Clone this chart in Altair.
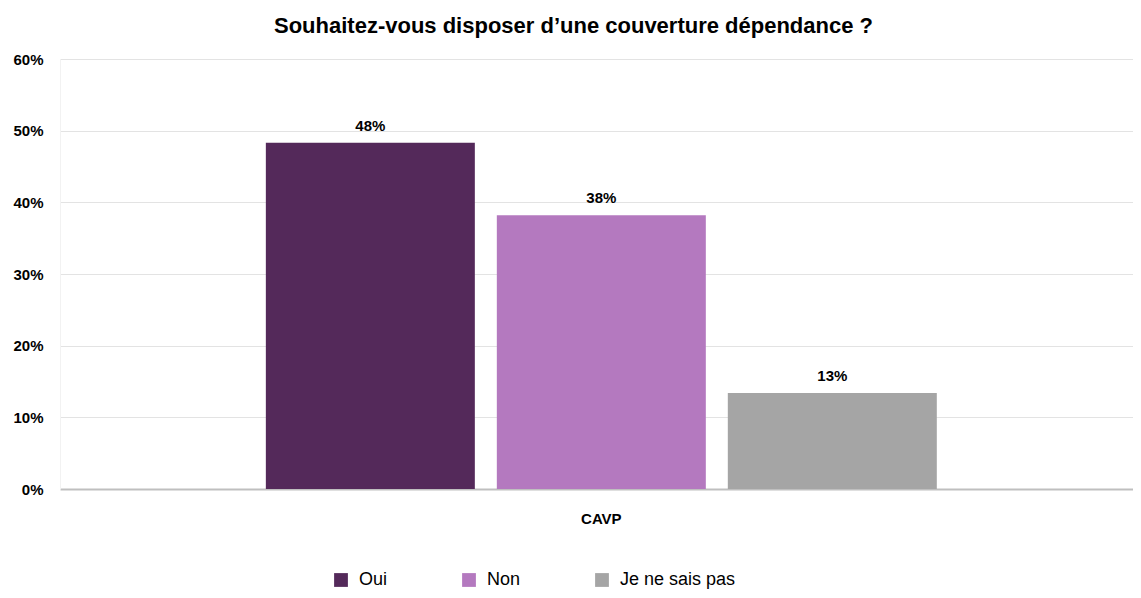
import altair as alt
import pandas as pd

groups = ["CAVP", "CAVP", "CAVP"]
responses = ["Oui", "Non", "Je ne sais pas"]
values = [0.483, 0.382, 0.134]
labels = ["48%", "38%", "13%"]
colors = ["#54295A", "#B479BF", "#A5A5A5"]

df = pd.DataFrame({"group": groups, "response": responses, "value": values, "label": labels})

FONT = "Liberation Sans, Arial"

x = alt.X("group:N", title=None,
          scale=alt.Scale(paddingInner=0, paddingOuter=0.2996, align=0.512),
          axis=alt.Axis(labelAngle=0, ticks=False, labelPadding=22, labelFont=FONT,
                        labelFontSize=15, labelFontWeight="bold", labelColor="#000000",
                        domainColor="#BFBFBF", domainWidth=2))
xo = alt.XOffset("response:N", sort=responses,
                 scale=alt.Scale(paddingInner=0.0952, paddingOuter=0))

bars = alt.Chart(df).mark_bar().encode(
    x=x, xOffset=xo,
    y=alt.Y("value:Q", title=None,
            scale=alt.Scale(domain=[0, 0.6]),
            axis=alt.Axis(format=".0%", values=[0, 0.1, 0.2, 0.3, 0.4, 0.5, 0.6], ticks=False,
                          labelPadding=17, labelFont=FONT, labelFontSize=15,
                          labelFontWeight="bold", labelColor="#000000",
                          gridColor="#E3E3E3", gridWidth=1, domainColor="#F2F2F2")),
    color=alt.Color("response:N", sort=responses,
                    scale=alt.Scale(domain=responses, range=colors),
                    legend=alt.Legend(title=None, orient="none", direction="horizontal",
                                      legendX=272, legendY=512, padding=0,
                                      symbolType="square", symbolSize=190, symbolStrokeWidth=0,
                                      labelFont=FONT, labelFontSize=18, labelOffset=9,
                                      labelColor="#000000", columnPadding=72)),
)

text = alt.Chart(df).mark_text(dy=-9, font=FONT, fontSize=15, fontWeight="bold", color="#000000",
                               baseline="bottom").encode(
    x=alt.X("group:N"), xOffset=alt.XOffset("response:N", sort=responses),
    y="value:Q", text="label:N")

chart = (bars + text).properties(
    width=1073, height=430,
    padding={"left": 52, "top": 51, "right": 0, "bottom": 101},
    autosize=alt.AutoSizeParams(type="none"),
    title=alt.Title("Souhaitez-vous disposer d’une couverture dépendance ?",
                    font=FONT, fontSize=22, fontWeight="bold", color="#000000",
                    anchor="middle", dx=-23, offset=14),
).configure_view(stroke=None)

chart.save("out.html", embed_options={"renderer": "svg", "actions": False})
